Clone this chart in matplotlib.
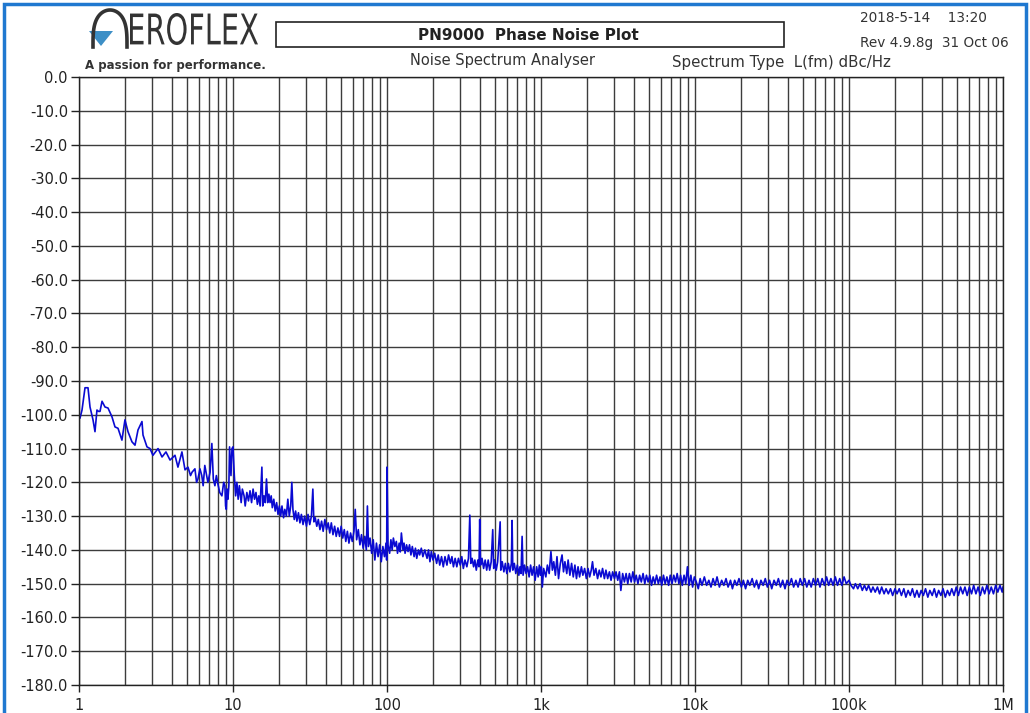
import numpy as np
import matplotlib
matplotlib.use("Agg")
import matplotlib.pyplot as plt
from matplotlib.ticker import FixedLocator, FuncFormatter, NullFormatter
from matplotlib.patches import Rectangle, Polygon, PathPatch
from matplotlib.textpath import TextPath
from matplotlib.font_manager import FontProperties
from matplotlib.transforms import Affine2D

# (offset frequency Hz, L(fm) dBc/Hz), one list per decade
dec_1_10 = [(1.0, -101), (1.015, -101), (1.046, -98.6), (1.094, -92), (1.12, -92),
            (1.144, -92), (1.179, -97.7), (1.233, -101.5), (1.27, -105), (1.308, -98.6),
            (1.34, -99), (1.369, -99), (1.411, -96), (1.475, -97.7), (1.543, -98),
            (1.637, -100.6), (1.713, -103.6), (1.792, -104), (1.9, -107.5), (1.988, -101.5),
            (2.08, -105), (2.207, -108), (2.31, -109), (2.416, -104.5), (2.564, -102),
            (2.604, -106), (2.763, -109.5), (2.891, -110), (3.02, -112), (3.26, -110),
            (3.46, -112.5), (3.67, -111), (3.9, -113.4), (4.2, -112), (4.39, -115.5),
            (4.66, -111), (4.88, -116.3), (5.1, -115.5), (5.3, -118), (5.42, -117),
            (5.66, -116), (5.8, -120), (5.92, -119), (6.1, -116), (6.27, -118),
            (6.4, -121), (6.56, -115), (6.87, -120), (7.1, -117), (7.29, -108.5),
            (7.45, -119), (7.63, -121), (7.8, -118), (7.98, -120.5), (8.2, -123),
            (8.47, -124), (8.7, -120), (8.86, -121), (8.95, -127), (9.05, -128),
            (9.15, -122), (9.27, -125), (9.4, -121), (9.5, -109.5), (9.7, -118),
            (9.85, -110)]

dec_10_100 = [(10.0, -109.5), (10.2, -118), (10.4, -124), (10.6, -120), (10.8, -125),
              (11.0, -121), (11.3, -126), (11.5, -122), (11.8, -124), (12.0, -127),
              (12.3, -123), (12.6, -125.5), (12.9, -122.5), (13.2, -126), (13.5, -122),
              (13.8, -125), (14.1, -123), (14.4, -126.5), (14.7, -124), (15.0, -127),
              (15.2, -121), (15.4, -115.5), (15.6, -127), (15.9, -124), (16.2, -126),
              (16.5, -119), (16.8, -126), (17.1, -123.5), (17.4, -126), (17.7, -124),
              (18.0, -127.5), (18.4, -125), (18.8, -128.5), (19.2, -126), (19.6, -129.5),
              (20.0, -127), (20.4, -130), (20.8, -127), (21.3, -130.5), (21.7, -128),
              (22.2, -130), (22.7, -125), (23.2, -130), (23.7, -127), (24.1, -120),
              (24.5, -128), (25.0, -131), (25.5, -128.5), (26.0, -131.5), (26.6, -129),
              (27.2, -132), (27.8, -129.5), (28.5, -132.5), (29.2, -130), (30.0, -133),
              (30.7, -129.5), (31.5, -132.5), (32.3, -130), (33.0, -122), (33.5, -131.7),
              (34.2, -130.5), (35.0, -133), (35.8, -131), (36.7, -134), (37.6, -131.5),
              (38.5, -134.5), (39.5, -131), (40.5, -134), (41.5, -132), (42.5, -135),
              (43.5, -132), (44.6, -135.5), (45.7, -133), (46.8, -136), (48.0, -133.5),
              (49.2, -136), (50.4, -133), (51.6, -136.5), (52.8, -134), (54.0, -137.5),
              (55.3, -134.5), (56.6, -138), (58.0, -135), (59.5, -137.5), (61.0, -134.5),
              (62.2, -128), (63.5, -137), (65.1, -134), (66.7, -138.5), (68.3, -135.5),
              (70.0, -139.5), (71.7, -136), (73.4, -140), (74.6, -127), (75.8, -139),
              (77.6, -136.5), (79.5, -141), (81.4, -137), (83.4, -143), (85.4, -138),
              (87.5, -142), (89.6, -138.5), (91.8, -143.5), (94.0, -139), (96.3, -142),
              (98.6, -138), (99.5, -143), (100.0, -115.5)]

dec_100_1k = [(101.5, -138.5), (104, -141), (106, -137), (108, -140), (110, -136.5),
              (112.5, -139), (115, -137.5), (117, -141), (120, -138), (122, -140.6),
              (124, -135), (127, -140), (129, -138), (131, -141), (134, -138.5),
              (137, -140.5), (140, -138.5), (143, -141.5), (146, -139), (150, -142),
              (153, -139.5), (156, -142.5), (160, -140), (163, -141.5), (167, -139.5),
              (171, -142), (176, -140), (182, -142.5), (186, -140), (190, -143.5),
              (194, -140.5), (199, -143), (204, -141), (210, -144), (215, -141.5),
              (220, -144.5), (226, -142), (232, -145), (238, -142), (245, -144.5),
              (251, -141.5), (258, -144), (264, -142), (270, -145), (277, -142.5),
              (284, -145), (291, -142.5), (299, -144.5), (306, -142), (313, -145.5),
              (321, -143), (330, -145), (338, -142.5), (345, -129.7), (350, -144),
              (357, -142.5), (365, -145), (372, -143), (380, -146), (389, -143),
              (396, -145), (400, -131), (405, -144.5), (414, -142.5), (424, -145.5),
              (434, -143), (444, -146), (454, -143), (464, -146), (475, -143.5),
              (486, -134), (493, -145.5), (500, -143), (512, -146), (523, -143.5),
              (543, -131.7), (548, -146), (560, -143.5), (574, -146.5), (587, -144),
              (600, -147), (614, -144), (628, -146.5), (642, -144), (649, -131.3),
              (656, -146), (671, -144), (686, -147), (702, -144.5), (718, -147.5),
              (730, -145), (742, -147), (754, -136), (765, -147.5), (782, -144.5),
              (800, -147), (818, -145), (837, -148), (856, -144.5), (875, -147.5),
              (895, -145), (916, -149), (937, -145), (958, -148), (975, -144.5),
              (990, -147.5), (1005, -145), (1020, -151)]

dec_1k_10k = [(1040, -145.5), (1075, -148), (1100, -144.5), (1130, -147), (1160, -140.5),
              (1185, -146), (1210, -143.5), (1240, -147.5), (1270, -142), (1300, -148.5),
              (1335, -144), (1370, -141.5), (1400, -146.5), (1430, -143.5), (1470, -147),
              (1500, -143), (1540, -147.5), (1580, -144), (1620, -148), (1660, -144.5),
              (1700, -148.5), (1740, -145), (1780, -148), (1830, -145), (1870, -147.5),
              (1920, -145.5), (1970, -148.5), (2020, -145.5), (2070, -148), (2120, -146),
              (2160, -143.5), (2210, -147.5), (2270, -145.5), (2330, -148.5), (2390, -146),
              (2450, -148), (2510, -145.5), (2580, -148.5), (2640, -146), (2710, -148.5),
              (2780, -146.5), (2850, -149), (2920, -146.5), (3000, -148.5), (3070, -146.5),
              (3150, -149), (3230, -146.5), (3300, -152), (3390, -147), (3480, -149.5),
              (3570, -147), (3660, -150), (3750, -147), (3850, -149.5), (3950, -146.5),
              (4050, -149.5), (4150, -147.5), (4260, -150), (4370, -147.5), (4480, -149.5),
              (4600, -147), (4720, -150), (4840, -147.5), (4960, -149.5), (5090, -147.5),
              (5220, -150.5), (5350, -148), (5490, -150), (5630, -147.5), (5780, -150),
              (5930, -148), (6080, -150.5), (6240, -147.5), (6400, -150), (6570, -148),
              (6740, -150.5), (6910, -147.5), (7090, -150), (7280, -147.5), (7470, -149.5),
              (7660, -147), (7860, -150), (8060, -147.5), (8270, -150.5), (8490, -147.5),
              (8710, -150), (8930, -145), (9160, -150.5), (9400, -147.5), (9650, -151),
              (9900, -148)]

dec_10k_100k = [(10.2e3, -149.5), (10.5e3, -151.5), (10.8e3, -148.5), (11.1e3, -150.5),
                (11.5e3, -148), (11.9e3, -150.5), (12.3e3, -149), (12.7e3, -151),
                (13.1e3, -148.5), (13.5e3, -150.5), (13.9e3, -148), (14.4e3, -151),
                (14.9e3, -149), (15.4e3, -150.5), (15.9e3, -148.5), (16.4e3, -151),
                (17.0e3, -149), (17.5e3, -151.5), (18.1e3, -149), (18.7e3, -150.5),
                (19.3e3, -148.5), (20.0e3, -151), (20.6e3, -149), (21.3e3, -151.5),
                (22.0e3, -149), (22.7e3, -150.5), (23.5e3, -148.5), (24.3e3, -151),
                (25.1e3, -149), (25.9e3, -151.5), (26.8e3, -149), (27.7e3, -150.5),
                (28.6e3, -148.5), (29.5e3, -151), (30.5e3, -149), (31.5e3, -151.5),
                (32.6e3, -149), (33.7e3, -150.5), (34.8e3, -148.5), (35.9e3, -151),
                (37.1e3, -149), (38.4e3, -151.5), (39.6e3, -149), (40.9e3, -150.5),
                (42.3e3, -148.5), (43.7e3, -151), (45.2e3, -149), (46.7e3, -151),
                (48.2e3, -148.5), (49.8e3, -150.5), (51.5e3, -148.5), (53.2e3, -151),
                (55.0e3, -149), (56.8e3, -151), (58.7e3, -148.5), (60.7e3, -150.5),
                (62.7e3, -148.5), (64.8e3, -151), (66.9e3, -148.5), (69.2e3, -150.5),
                (71.5e3, -148), (73.8e3, -150.5), (76.3e3, -148.5), (78.8e3, -150.5),
                (81.5e3, -148), (84.2e3, -150.5), (87.0e3, -148.5), (89.9e3, -150.5),
                (92.9e3, -148), (96.0e3, -150), (100e3, -149)]

dec_100k_1M = [(103e3, -150.5), (107e3, -151.5), (110e3, -150), (114e3, -151.5),
               (118e3, -150), (122e3, -152), (126e3, -150.5), (130e3, -152),
               (134e3, -150.5), (139e3, -152.5), (143e3, -151), (148e3, -152.5),
               (153e3, -151), (158e3, -153), (163e3, -151), (169e3, -153),
               (174e3, -151.5), (180e3, -153), (186e3, -151.5), (192e3, -153.5),
               (199e3, -151.5), (205e3, -153), (212e3, -151.5), (219e3, -153.5),
               (227e3, -151.5), (234e3, -154), (242e3, -152), (250e3, -153.5),
               (258e3, -151.5), (267e3, -154), (276e3, -152), (285e3, -154),
               (294e3, -152), (304e3, -153.5), (314e3, -151.5), (325e3, -154),
               (335e3, -152), (347e3, -153.5), (358e3, -151.5), (370e3, -154),
               (382e3, -152), (395e3, -153.5), (408e3, -151.5), (422e3, -154),
               (436e3, -152), (450e3, -153.5), (465e3, -151.5), (481e3, -153.5),
               (497e3, -151), (513e3, -153.5), (530e3, -151), (548e3, -153),
               (566e3, -151), (585e3, -153.5), (605e3, -151), (625e3, -153),
               (645e3, -150.5), (667e3, -153), (689e3, -151), (712e3, -153.5),
               (736e3, -151), (760e3, -153), (786e3, -150.5), (812e3, -153),
               (839e3, -151), (867e3, -153), (896e3, -150.5), (925e3, -152.5),
               (956e3, -150.5), (988e3, -152.5), (1e6, -151)]

trace = dec_1_10 + dec_10_100 + dec_100_1k + dec_1k_10k + dec_10k_100k + dec_100k_1M
freq = np.array([p[0] for p in trace])
level = np.array([p[1] for p in trace])

x_ticks = [1, 10, 100, 1e3, 1e4, 1e5, 1e6]
x_tick_labels = ["1", "10", "100", "1k", "10k", "100k", "1M"]
y_ticks = list(range(0, -190, -10))

W, H = 1030.0, 713.0
fig = plt.figure(figsize=(W / 100, H / 100), dpi=100)

ax = fig.add_axes([79 / W, 1 - 685 / H, (1003 - 79) / W, (685 - 77) / H])
ax.semilogx(freq, level, color="#0a0ad2", lw=1.2)
ax.set_xlim(1, 1e6)
ax.set_ylim(-180, 0)

ax.xaxis.set_major_locator(FixedLocator(x_ticks))
ax.xaxis.set_major_formatter(FuncFormatter(
    lambda v, p: x_tick_labels[x_ticks.index(v)] if v in x_ticks else ""))
minors = [m * 10 ** d for d in range(6) for m in range(2, 10)]
ax.xaxis.set_minor_locator(FixedLocator(minors))
ax.xaxis.set_minor_formatter(NullFormatter())
ax.set_yticks(y_ticks)
ax.yaxis.set_major_formatter(FuncFormatter(lambda v, p: "%.1f" % v))

ax.grid(True, which="both", axis="x", color="#3c3c3c", lw=1.0)
ax.grid(True, which="major", axis="y", color="#3c3c3c", lw=1.0)
ax.set_axisbelow(True)
ax.tick_params(axis="x", which="minor", length=0)
ax.tick_params(axis="x", which="major", length=5, width=1, pad=4,
               labelsize=10.5, colors="#222222")
ax.tick_params(axis="y", length=6, width=1, pad=2, labelsize=10.5, colors="#222222")
for s in ax.spines.values():
    s.set_color("#222222")
    s.set_linewidth(1.0)


def fx(px):
    return px / W


def fy(py):
    return 1 - py / H


# header texts
fig.patches.append(Rectangle((fx(276), fy(47)), fx(784) - fx(276), fy(22) - fy(47),
                             transform=fig.transFigure, fill=False, ec="#222222", lw=1.2))
fig.text(fx(528), fy(35), "PN9000  Phase Noise Plot", ha="center", va="center",
         fontsize=11, fontweight="bold", color="#222222")
fig.text(fx(503), fy(61), "Noise Spectrum Analyser", ha="center", va="center",
         fontsize=10.5, color="#333333")
fig.text(fx(672), fy(62), "Spectrum Type  L(fm) dBc/Hz", ha="left", va="center",
         fontsize=10.8, color="#333333")
fig.text(fx(860), fy(18), "2018-5-14    13:20", ha="left", va="center",
         fontsize=9.8, color="#333333")
fig.text(fx(860), fy(43), "Rev 4.9.8g  31 Oct 06", ha="left", va="center",
         fontsize=9.8, color="#333333")

# logo: arch + triangle + squeezed lettering
t = np.linspace(0, np.pi, 60)
arch_x = fx(110) + (fx(127) - fx(110)) * np.cos(t)
arch_y = fy(47) + (fy(10) - fy(47)) * np.sin(t) ** 0.6
fig.lines.append(plt.Line2D(arch_x, arch_y, transform=fig.transFigure,
                            color="#333333", lw=2.6))
fig.patches.append(Polygon([[fx(89), fy(31)], [fx(113), fy(31)], [fx(101), fy(46)]],
                           closed=True, transform=fig.transFigure, fc="#3d8fc6", ec="none"))
tp = TextPath((0, 0), "EROFLEX", size=100, prop=FontProperties(family="DejaVu Sans"))
bb = tp.get_extents()
sx = (258 - 130) / bb.width
sy = (45 - 13) / bb.height
logo_tf = Affine2D().translate(-bb.x0, -bb.y0).scale(sx, sy).translate(130, H - 45)
fig.patches.append(PathPatch(tp, transform=logo_tf, fc="#333333", ec="none"))
fig.text(fx(85), fy(66), "A passion for performance.", ha="left", va="center",
         fontsize=8.5, fontweight="bold", color="#333333")

# window frame
fig.patches.append(Rectangle((fx(4), -0.02), fx(1026) - fx(4), fy(4) + 0.02,
                             transform=fig.transFigure, fill=False, ec="#1f78d0", lw=2.5))

fig.savefig("out.png", dpi=100)
